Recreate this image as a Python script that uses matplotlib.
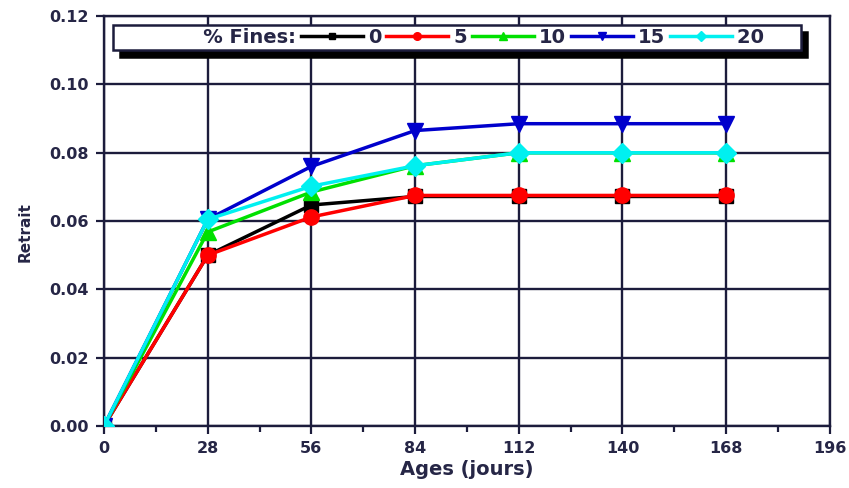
import matplotlib.pyplot as plt
from matplotlib.lines import Line2D
from matplotlib.ticker import MultipleLocator

plt.rcParams['font.family'] = ['DejaVu Sans']

ages = [0, 28, 56, 84, 112, 140, 168]
fines_0 = [0.0, 0.050, 0.0647, 0.0672, 0.0672, 0.0672, 0.0672]
fines_5 = [0.0, 0.050, 0.0612, 0.0675, 0.0675, 0.0675, 0.0675]
fines_10 = [0.0, 0.0568, 0.0685, 0.0762, 0.0800, 0.0800, 0.0800]
fines_15 = [0.0, 0.0605, 0.0760, 0.0865, 0.0885, 0.0885, 0.0885]
fines_20 = [0.0, 0.0605, 0.0702, 0.0762, 0.0800, 0.0800, 0.0800]
labels = ['0', '5', '10', '15', '20']

series = [fines_0, fines_5, fines_10, fines_15, fines_20]
colors = ['black', '#ff0000', '#00e000', '#0000cc', '#00f0f0']
markers = ['s', 'o', '^', 'v', 'D']
msizes = [9.5, 11, 11, 12, 10]

navy = '#1c1c3c'
txt = '#262646'
fig = plt.figure(figsize=(8.49, 4.88), dpi=100)
ax = fig.add_axes([0.1225, 0.127, 0.855, 0.84])

handles = [Line2D([], [], color='none', label='   % Fines:')]
for ys, c, m, ms, lab in zip(series, colors, markers, msizes, labels):
    h, = ax.plot(ages, ys, color=c, marker=m, markersize=ms, lw=2.5,
                 markeredgecolor=c, label=lab, zorder=3)
    handles.append(h)
# extra room after the last entry, as in the original box
handles[-1].set_label('20     ')

ax.set_xlim(0, 196)
ax.set_ylim(0, 0.12)
ax.xaxis.set_major_locator(MultipleLocator(28))
ax.xaxis.set_minor_locator(MultipleLocator(14))
ax.yaxis.set_major_locator(MultipleLocator(0.02))
ax.yaxis.set_major_formatter(plt.FormatStrFormatter('%.2f'))
ax.grid(True, which='major', color=navy, lw=1.7)
ax.set_axisbelow(True)
for s in ax.spines.values():
    s.set_color(navy)
    s.set_linewidth(1.7)
ax.tick_params(axis='both', which='major', direction='out', length=6, width=1.6,
               color=navy, labelcolor=txt, labelsize=11.5, pad=5)
ax.tick_params(axis='x', which='minor', direction='out', length=4, width=1.6, color=navy)
for t in ax.get_xticklabels() + ax.get_yticklabels():
    t.set_fontweight('bold')

ax.set_xlabel('Ages (jours)', fontsize=14, fontweight='bold', color=txt, labelpad=3)
ax.set_ylabel('Retrait', fontsize=11, fontweight='bold', color=txt)
ax.yaxis.set_label_coords(-0.099, 0.473)

leg = ax.legend(handles=handles, ncol=6, loc='upper left',
                bbox_to_anchor=(0.0124, 0.978), borderaxespad=0, fancybox=False,
                shadow={'ox': 5, 'oy': -5, 'color': 'black', 'alpha': 1},
                framealpha=1, edgecolor=navy, handlelength=3.2, markerscale=0.5,
                handletextpad=0.25, columnspacing=0.25, borderpad=0.15,
                prop={'size': 14, 'weight': 'bold'}, labelcolor=txt)
leg.get_frame().set_linewidth(1.8)
leg.legend_handles[0].set_visible(False)

fig.savefig('out.png', dpi=100)
